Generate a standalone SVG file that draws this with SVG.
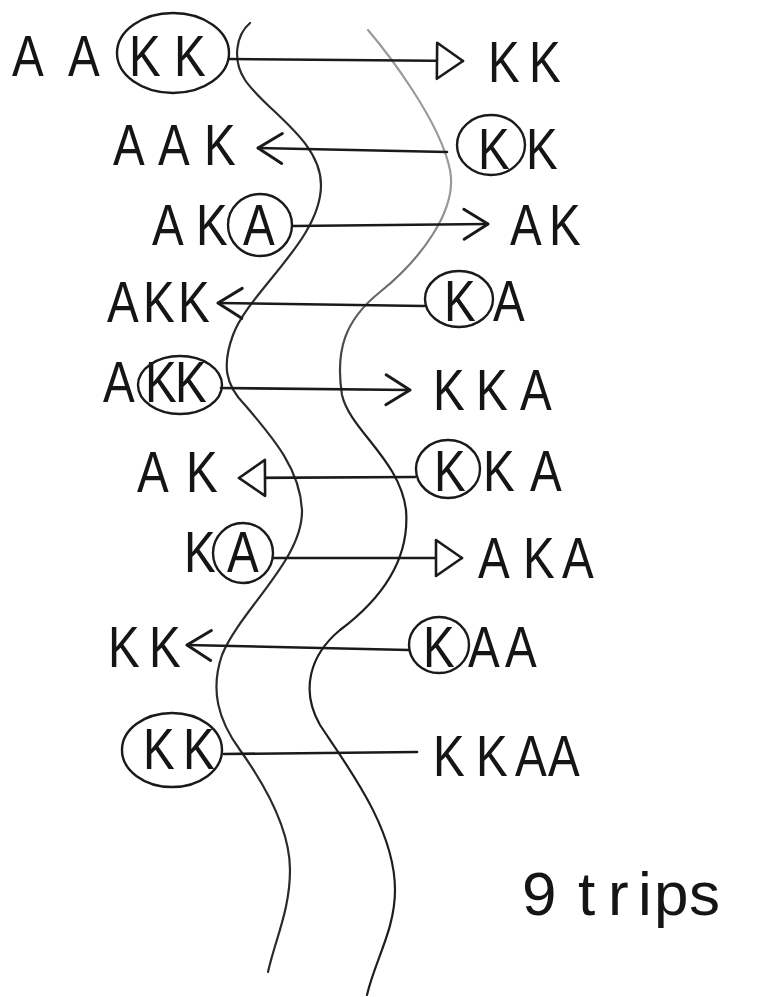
<svg xmlns="http://www.w3.org/2000/svg" width="757" height="997" viewBox="0 0 757 997">
<style>
.t{font-family:"Liberation Sans","DejaVu Sans",sans-serif;font-size:58px;fill:#151515;}
.big{font-family:"Liberation Sans","DejaVu Sans",sans-serif;font-size:62px;fill:#151515;}
.ring{fill:none;stroke:#1a1a1a;stroke-width:2.4;}
.conn{fill:none;stroke:#1a1a1a;stroke-width:2.6;stroke-linecap:round;}
.bank{fill:none;stroke-width:2.2;stroke-linecap:round;}
</style>
<defs>
<linearGradient id="fade" gradientUnits="userSpaceOnUse" x1="0" y1="200" x2="0" y2="430">
<stop offset="0" stop-color="#9a9a9a"/>
<stop offset="1" stop-color="#1e1e1e"/>
</linearGradient>
<marker id="tri" viewBox="0 0 30 40" refX="28" refY="20" markerWidth="30" markerHeight="40" markerUnits="userSpaceOnUse" orient="auto">
<path d="M2,2 L28,20 L2,38 Z" fill="#fff" stroke="#1a1a1a" stroke-width="2.6" stroke-linejoin="round"/>
</marker>
<marker id="chev" viewBox="0 0 30 36" refX="27" refY="18" markerWidth="30" markerHeight="36" markerUnits="userSpaceOnUse" orient="auto">
<path d="M3,3 L27,18 L3,33" fill="none" stroke="#1a1a1a" stroke-width="3" stroke-linecap="round" stroke-linejoin="round"/>
</marker>
</defs>
<rect width="757" height="997" fill="#fff"/>

<g id="river">
<path class="bank" stroke="#2a2a2a" d="M250 23 C236 35,232 60,245 80 C265 110,321 140,321 185 C321 240,250 290,233 335 C222 365,225 385,245 405 C275 440,300 470,302 510 C303 560,240 610,222 655 C210 690,218 720,240 750 C265 785,290 830,290 870 C290 910,275 940,268 972"/>
<path class="bank" stroke="url(#fade)" d="M368 30 C385 50,440 120,450 170 C458 210,420 260,380 292 C345 320,335 350,342 395 C350 430,400 460,406 510 C410 560,380 600,340 630 C310 655,300 690,320 725 C350 770,395 830,395 890 C395 930,375 960,367 995"/>
</g>

<g id="connectors">
<path class="conn" d="M229 59 L463 61" marker-end="url(#tri)"/>
<path class="conn" d="M447 152 L258 148" marker-end="url(#chev)"/>
<path class="conn" d="M293 226 L488 224" marker-end="url(#chev)"/>
<path class="conn" d="M424 306 L218 303" marker-end="url(#chev)"/>
<path class="conn" d="M221 388 L410 390" marker-end="url(#chev)"/>
<path class="conn" d="M415 477 L239 478" marker-end="url(#tri)"/>
<path class="conn" d="M273 558 L462 558" marker-end="url(#tri)"/>
<path class="conn" d="M409 650 L187 645" marker-end="url(#chev)"/>
<path class="conn" d="M224 754 L417 752"/>
</g>

<g id="trip1-left"><text class="t" transform="scale(0.82 1)" x="14.6 82.9 157.3 212.2" y="76">AAKK</text><ellipse class="ring" cx="173" cy="53" rx="56" ry="40"/></g>
<g id="trip1-right"><text class="t" transform="scale(0.82 1)" x="595.1 645.1" y="82">KK</text></g>

<g id="trip2-left"><text class="t" transform="scale(0.82 1)" x="137.8 192.7 248.8" y="165">AAK</text></g>
<g id="trip2-right"><text class="t" transform="scale(0.82 1)" x="582.9 641.5" y="169">KK</text><ellipse class="ring" cx="491" cy="145" rx="34" ry="30"/></g>

<g id="trip3-left"><text class="t" transform="scale(0.82 1)" x="185.4 239.0 296.3" y="245">AKA</text><ellipse class="ring" cx="260" cy="225" rx="32" ry="31"/></g>
<g id="trip3-right"><text class="t" transform="scale(0.82 1)" x="622.0 669.5" y="245">AK</text></g>

<g id="trip4-left"><text class="t" transform="scale(0.82 1)" x="130.5 174.4 217.1" y="322">AKK</text></g>
<g id="trip4-right"><text class="t" transform="scale(0.82 1)" x="541.5 601.2" y="321">KA</text><ellipse class="ring" cx="459" cy="299" rx="34" ry="28"/></g>

<g id="trip5-left"><text class="t" transform="scale(0.82 1)" x="125.6 176.8 213.4" y="402">AKK</text><ellipse class="ring" cx="180" cy="385" rx="42" ry="29"/></g>
<g id="trip5-right"><text class="t" transform="scale(0.82 1)" x="528.0 580.5 634.1" y="410">KKA</text></g>

<g id="trip6-left"><text class="t" transform="scale(0.82 1)" x="167.1 226.8" y="492">AK</text></g>
<g id="trip6-right"><text class="t" transform="scale(0.82 1)" x="529.3 589.0 646.3" y="491">KKA</text><ellipse class="ring" cx="448" cy="469" rx="32" ry="29"/></g>

<g id="trip7-left"><text class="t" transform="scale(0.82 1)" x="224.4 276.8" y="572">KA</text><ellipse class="ring" cx="243" cy="553" rx="30" ry="30"/></g>
<g id="trip7-right"><text class="t" transform="scale(0.82 1)" x="582.9 637.8 685.4" y="578">AKA</text></g>

<g id="trip8-left"><text class="t" transform="scale(0.82 1)" x="131.7 181.7" y="667">KK</text></g>
<g id="trip8-right"><text class="t" transform="scale(0.82 1)" x="515.9 570.7 615.9" y="667">KAA</text><ellipse class="ring" cx="439" cy="645" rx="30" ry="28"/></g>

<g id="trip9-left"><text class="t" transform="scale(0.82 1)" x="174.4 223.2" y="769">KK</text><ellipse class="ring" cx="172" cy="750" rx="50" ry="37"/></g>
<g id="trip9-right"><text class="t" transform="scale(0.82 1)" x="528.0 580.5 628.0 668.3" y="776">KKAA</text></g>

<g id="total"><text class="big" x="522 578 608 638 654 689" y="915">9trips</text></g>
</svg>
